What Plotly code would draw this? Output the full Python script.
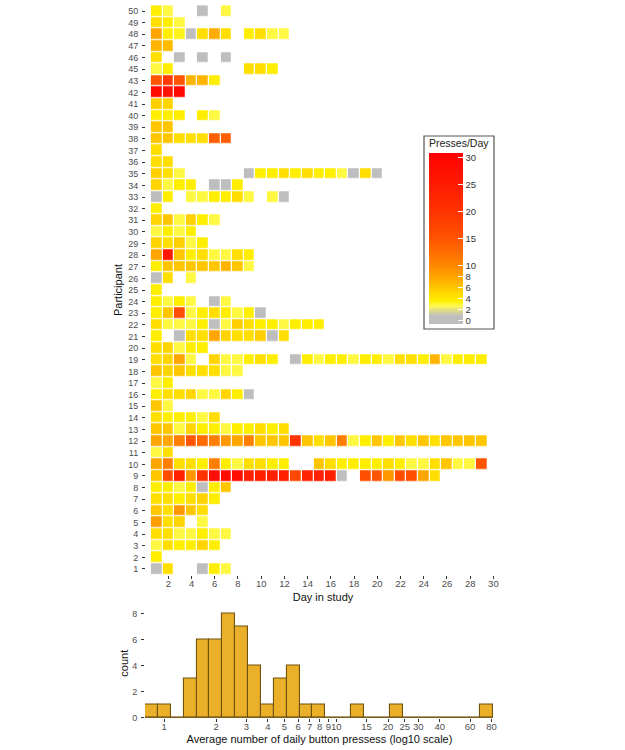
import math
import plotly.graph_objects as go

# ---------------- data ----------------
participants = [1, 2, 3, 4, 5, 6, 7, 8, 9, 10, 11, 12, 13, 14, 15, 16, 17, 18, 19, 20,
                21, 22, 23, 24, 25, 26, 27, 28, 29, 30, 31, 32, 33, 34, 35, 36, 37, 38,
                39, 40, 41, 42, 43, 45, 46, 47, 48, 49, 50]
days = list(range(1, 31))

# presses per day for each participant, day 1 onward (None = no record)
p01 = [0, 4.6, None, None, 0, 3.6, 2.8]
p02 = [3.6]
p03 = [2.8, 4.6, 3.6, 3.6, 5.2, 3.6]
p04 = [4.6, 4.6, 2.8, 2.8, 3.6, 2.8, 2.8]
p05 = [8.5, 4.6, 5.2, None, 2.8]
p06 = [6, 4.6, 9, 6, 4.6]
p07 = [4.6, 4.6, 3.6, 4.6, 5.2, 3.6]
p08 = [3.6, 3.6, 2.8, 3.6, 0, 3.6, 6]
p09 = [6, 16, 24, 9, 20, 28, 28, 28, 24, 24, 24, 24, 17, 23, 24, 24, 0, None,
       16, 15, 9, 16, 16, 8, 4.6]
p10 = [8, 11, 4.6, 4.6, 3.6, 11, 3.6, 2.8, 4.6, 4.6, 3.6, 3.6, None, None, 6, 4.6,
       3.6, 3.6, 3.6, 3.6, 4.6, 3.6, 2.8, 2.8, 4.6, 6, 2.8, 2.8, 15]
p11 = [2.8, 4.6]
p12 = [8, 8, 11, 15, 13, 11, 9, 8, 11, 6, 6, 6, 20, 6, 4.6, 6, 11, 2.8, 3.6, 6,
       3.6, 6, 4.6, 6, 4.6, 6, 6, 6, 6]
p13 = [6, 6, 2.8, 5.2, 3.6, 3.6, 2.8, 3.6, 3.6, 4.6, 3.6, 4.6]
p14 = [4.6, 3.6, 3.6, 3.6, 2.8, 4.6]
p15 = [6, 2.8]
p16 = [3.6, 4.6, 4.6, 5.2, 2.8, 2.8, 5.2, 3.6, 0]
p17 = [2.8, 3.6]
p18 = [6, 5.2, 6, 4.6, 4.6, 4.6, 2.8, 2.8]
p19 = [4.6, 5.2, 8, 2.8, None, 5.2, 2.8, 2.8, 3.6, 4.6, 3.6, None, 0, 3.6, 2.8,
       3.6, 3.6, 2.8, 3.6, 3.6, 2.8, 4.6, 4.6, 3.6, 7, 2.8, 3.6, 3.6, 3.6]
p20 = [4.6, 5.2, 2.8, 3.6, 3.6]
p21 = [3.6, None, 0, 4.6, 4.6, 8, 5.2, 4.6, 4.6, 5.5, 0, 4.6]
p22 = [4.6, 2.8, 2.8, 2.8, 3.6, 0, 2.8, 5.5, 4.6, 3.6, 3.6, 2.8, 3.6, 3.6, 3.6]
p23 = [3.6, 6, 16, 2.8, 3.6, 4.6, 3.6, 2.8, 3.6, 0]
p24 = [3.6, 2.8, 3.6, 2.8, None, 0, 2.8]
p25 = [3.6]
p26 = [0, 4.6, None, 2.8]
p27 = [3.6, 6, 6, 6, 6, 6, 7, 6, 2.8]
p28 = [8, 26, 6, 3.6, 4.6, 2.8, 2.8, 4.6, 3.6]
p29 = [5.2, 4.6, 5.5, 2.8, 3.6]
p30 = [2.8, 3.6, 2.8, 3.6]
p31 = [5.2, 6, 2.8, 5.5, 3.6, 2.8]
p32 = [3.6]
p33 = [0, 3.6, None, 2.8, 2.8, 3.6, 3.6, 4.6, 2.8, None, 2.8, 0]
p34 = [5.2, 2.8, 3.6, 3.6, None, 0, 0, 3.6]
p35 = [5.5, 4.6, 2.8, None, None, None, None, None, 0, 3.6, 3.6, 4.6, 3.6, 4.6,
       3.6, 3.6, 2.8, 0, 4.6, 0]
p36 = [4.6, 4.6]
p37 = [4.6]
p38 = [6, 6, 4.6, 4.6, 4.6, 14, 14]
p39 = [6, 6]
p40 = [3.6, 3.6, 3.6, None, 3.6, 2.8]
p41 = [5.5, 5.2]
p42 = [29, 27, 29]
p43 = [15, 19, 15, 7, 7, 3.6]
p45 = [2.8, 3.6, None, None, None, None, None, None, 4.6, 4.6, 3.6]
p46 = [4.6, None, 0, None, 0, None, 0]
p47 = [7, 6.5]
p48 = [8, 3.6, 3.2, 0, 4.6, 7.5, 4.6, None, 3.6, 4.6, 2.8, 2.8]
p49 = [4.6, 3.6, 2.8]
p50 = [3.6, 2.8, None, None, 0, None, 2.8]

presses = [p01, p02, p03, p04, p05, p06, p07, p08, p09, p10, p11, p12, p13, p14,
           p15, p16, p17, p18, p19, p20, p21, p22, p23, p24, p25, p26, p27, p28,
           p29, p30, p31, p32, p33, p34, p35, p36, p37, p38, p39, p40, p41, p42,
           p43, p45, p46, p47, p48, p49, p50]

legend_ticks = [0, 2, 4, 6, 8, 10, 15, 20, 25, 30]

# histogram of average daily presses (log10 bins)
hist_bin_start_log10 = -0.112
hist_bin_width_log10 = 0.0749
hist_counts = [1, 1, 0, 3, 6, 6, 8, 7, 4, 1, 3, 4, 1, 1, 0, 0, 1, 0, 0, 1,
               0, 0, 0, 0, 0, 0, 1]
hist_tick_labels = [1, 2, 3, 4, 5, 6, 7, 8, 9, 10, 15, 20, 25, 30, 40, 60, 80]
count_ticks = [0, 2, 4, 6, 8]

# ---------------- figure ----------------
W, H = 625, 750
FONT = "Liberation Sans, Arial, Helvetica, sans-serif"
TICKC = "#4d4d4d"

def px_x(p):
    return p / W

def px_y(p):
    return 1 - p / H

z = [row + [None] * (len(days) - len(row)) for row in presses]

zmin, zmax = -0.7, 30.8
stops = [(-0.7, "#bebebe"), (0.8, "#bebebe"), (2.0, "#e8e27a"), (2.6, "#fffa55"),
         (3.5, "#fff000"), (5.0, "#ffd800"), (7.0, "#ffb400"), (10.0, "#ff8800"),
         (15.0, "#ff5500"), (20.0, "#ff3300"), (30.8, "#ff0000")]
colorscale = [[(v - zmin) / (zmax - zmin), c] for v, c in stops]

fig = go.Figure()

fig.add_trace(go.Heatmap(
    z=z, x=days, y=[str(p) for p in participants],
    colorscale=colorscale, zmin=zmin, zmax=zmax,
    xgap=1.2, ygap=1.2, hoverongaps=False,
    colorbar=dict(
        title=dict(text="Presses/Day", side="top",
                   font=dict(size=10.5, color="#222", family=FONT)),
        tickmode="array", tickvals=legend_ticks,
        ticks="inside", ticklen=5, tickcolor="white", tickwidth=1,
        tickfont=dict(size=9.5, color="#333", family=FONT),
        thickness=34, thicknessmode="pixels",
        len=188, lenmode="pixels",
        x=px_x(429), xanchor="left", y=px_y(324), yanchor="bottom",
        xpad=0, ypad=0, outlinewidth=0,
    ),
    xaxis="x", yaxis="y",
))

edges = [hist_bin_start_log10 + i * hist_bin_width_log10 for i in range(len(hist_counts) + 1)]
centers = [(edges[i] + edges[i + 1]) / 2 for i in range(len(hist_counts))]

fig.add_trace(go.Scatter(
    x=[edges[0], edges[-1]], y=[0, 0], mode="lines",
    line=dict(color="#6f520e", width=1), hoverinfo="skip",
    xaxis="x2", yaxis="y2", showlegend=False,
))
fig.add_trace(go.Bar(
    x=centers, y=hist_counts, width=hist_bin_width_log10,
    marker=dict(color="#ebb02a", line=dict(color="#6f520e", width=1.1)),
    xaxis="x2", yaxis="y2", showlegend=False,
))

fig.update_layout(
    width=W, height=H,
    margin=dict(l=0, r=0, t=0, b=0, autoexpand=False),
    paper_bgcolor="white", plot_bgcolor="white",
    font=dict(family=FONT, color="#222"),
    showlegend=False,
    bargap=0,
    xaxis=dict(
        domain=[px_x(146), px_x(500)], range=[0.078, 30.57],
        tickmode="array", tickvals=list(range(2, 31, 2)), tickangle=0,
        ticks="outside", ticklen=3, tickcolor="#333", tickwidth=1,
        ticklabelstandoff=-3,
        tickfont=dict(size=9.5, color=TICKC),
        showgrid=False, zeroline=False, showline=False,
        title=dict(text="Day in study", font=dict(size=11, color="#111"), standoff=5),
        anchor="y",
    ),
    yaxis=dict(
        domain=[px_y(574.8), px_y(5.2)], type="category",
        categoryorder="array", categoryarray=[str(p) for p in participants],
        range=[-0.5, len(participants) - 0.5],
        tickmode="array", tickvals=[str(p) for p in participants],
        ticks="outside", ticklen=3, tickcolor="#333", tickwidth=1,
        ticklabelstandoff=2,
        tickfont=dict(size=9, color=TICKC),
        showgrid=False, zeroline=False, showline=False,
        title=dict(text="Participant", font=dict(size=11, color="#111"), standoff=3),
        anchor="x",
    ),
    xaxis2=dict(
        domain=[px_x(145), px_x(494)],
        range=[hist_bin_start_log10, hist_bin_start_log10 + 349 / 172],
        tickmode="array", tickvals=[math.log10(v) for v in hist_tick_labels],
        ticktext=[str(v) for v in hist_tick_labels], tickangle=0,
        ticks="outside", ticklen=3, tickcolor="#333", tickwidth=1,
        ticklabelstandoff=-3,
        tickfont=dict(size=9.5, color=TICKC),
        showgrid=False, zeroline=False, showline=False,
        title=dict(text="Average number of daily button pressess (log10 scale)",
                   font=dict(size=11, color="#111"), standoff=3),
        anchor="y2",
    ),
    yaxis2=dict(
        domain=[px_y(718), px_y(608.5)], range=[-0.05, 8.4],
        tickmode="array", tickvals=count_ticks,
        ticks="outside", ticklen=3, tickcolor="#333", tickwidth=1,
        ticklabelstandoff=2,
        tickfont=dict(size=9, color=TICKC),
        showgrid=False, zeroline=False, showline=False,
        title=dict(text="count", font=dict(size=11, color="#111"), standoff=1),
        anchor="x2",
    ),
    shapes=[dict(type="rect", xref="paper", yref="paper",
                 x0=px_x(424), x1=px_x(494), y0=px_y(329), y1=px_y(136),
                 line=dict(color="#555", width=1.2), fillcolor="rgba(0,0,0,0)",
                 layer="below")],
)

# remove the browser's default 8px body margin so the figure fills the window
fig.write_html(
    "out.html",
    config={"displayModeBar": False},
    post_script="document.body.style.margin='0px';document.body.style.overflow='hidden';",
)
